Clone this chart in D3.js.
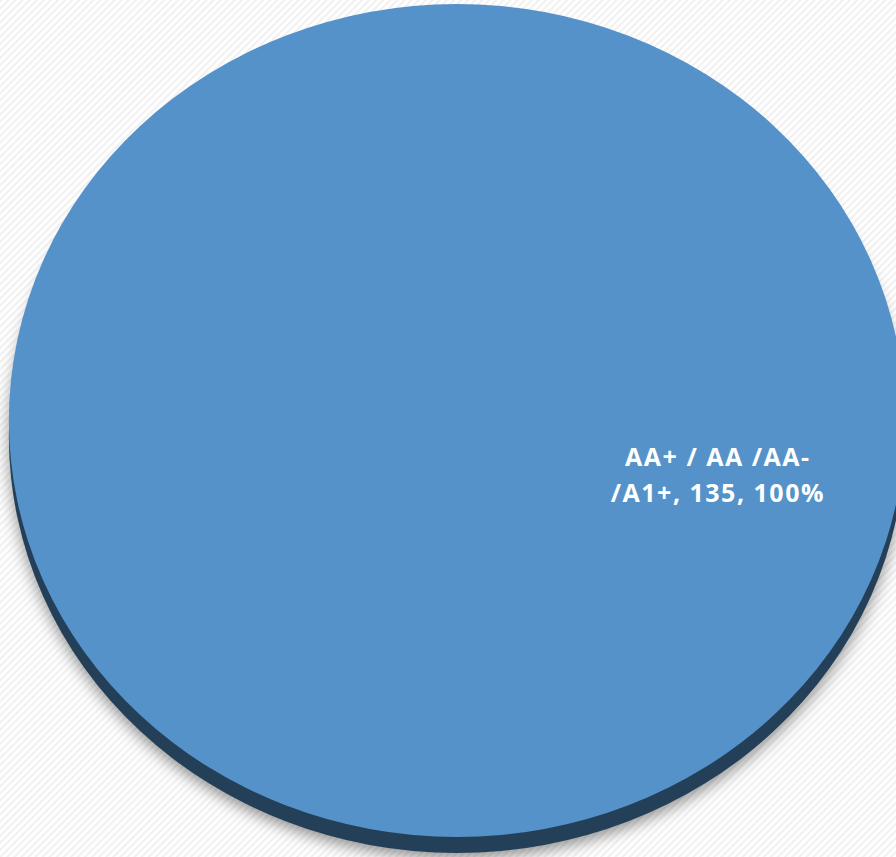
<!DOCTYPE html>
<html>
<head>
<meta charset="utf-8">
<script src="https://cdn.jsdelivr.net/npm/d3@7"></script>
<style>
html,body{margin:0;padding:0;background:#fff;overflow:hidden;}
</style>
</head>
<body>
<svg id="chart" width="896" height="857"></svg>
<script>
const categories = ["AA+ / AA /AA- /A1+"];
const values = [135];
const labelLines = [["AA+ / AA /AA-", "/A1+, 135, 100%"]];
const colors = ["#5592C9"];
const sideColors = ["#243F58"];

const W = 896, H = 857;
const cx = 457, cy = 420.5, rx = 448, ry = 416.5, depth = 16;
const svg = d3.select("#chart");
const defs = svg.append("defs");

const pat = defs.append("pattern").attr("id","stripes").attr("patternUnits","userSpaceOnUse")
  .attr("width",5).attr("height",5).attr("patternTransform","rotate(45)");
pat.append("rect").attr("width",5).attr("height",5).attr("fill","#ffffff");
pat.append("rect").attr("width",2.2).attr("height",5).attr("fill","#f1f1f1");
svg.append("rect").attr("width",W).attr("height",H).attr("fill","url(#stripes)");

const blur = defs.append("filter").attr("id","shadow").attr("x","-20%").attr("y","-20%").attr("width","140%").attr("height","140%");
blur.append("feGaussianBlur").attr("stdDeviation",7);

const pie = d3.pie().sort(null).value(d => d);
const arcs = pie(values);
const arc = d3.arc().innerRadius(0).outerRadius(ry);

// shadow
svg.append("g").attr("transform",`translate(${cx},${cy+depth+6}) scale(${rx/ry},1)`)
  .selectAll("path").data(arcs).join("path")
  .attr("d", arc).attr("fill","rgba(0,0,0,0.4)").attr("filter","url(#shadow)");

// side (3D depth)
svg.append("g").attr("transform",`translate(${cx},${cy+depth}) scale(${rx/ry},1)`)
  .selectAll("path").data(arcs).join("path")
  .attr("d", arc).attr("fill",(d,i)=>sideColors[i]);

// top face
svg.append("g").attr("transform",`translate(${cx},${cy}) scale(${rx/ry},1)`)
  .selectAll("path").data(arcs).join("path")
  .attr("d", arc).attr("fill",(d,i)=>colors[i]);

// label
const lbl = svg.append("g").attr("transform",`translate(${cx + rx*0.58 + 1},${cy})`);
labelLines.forEach((lines,i)=>{
  const t = lbl.append("text").attr("text-anchor","middle")
    .attr("font-family","'Open Sans', sans-serif").attr("font-weight","bold")
    .attr("font-size",25).attr("letter-spacing",1.5).attr("fill","#ffffff");
  lines.forEach((ln,j)=>{
    t.append("tspan").attr("x",0).attr("y",45.5 + j*36).text(ln);
  });
});
</script>
</body>
</html>
